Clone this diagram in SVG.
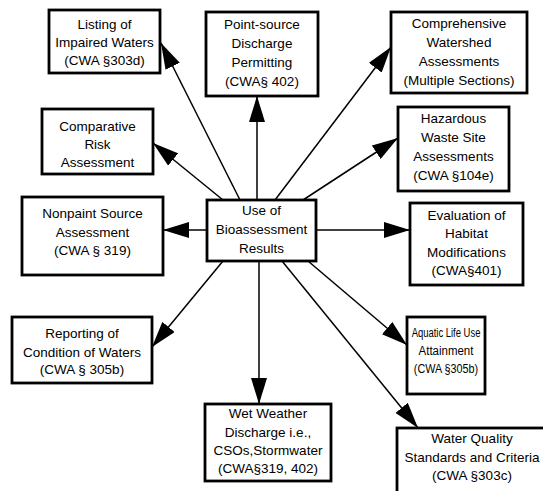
<svg xmlns="http://www.w3.org/2000/svg" width="543" height="491" viewBox="0 0 543 491">
<style>
.box{fill:#fff;stroke:#000;stroke-width:2.8}
.t{font-family:"Liberation Sans",Arial,sans-serif;font-size:13.5px;fill:#000;text-anchor:middle}
.c line{stroke:#000;stroke-width:1.5;marker-end:url(#ah)}
</style>
<defs>
<marker id="ah" markerUnits="userSpaceOnUse" viewBox="0 0 26 16" refX="26" refY="8" markerWidth="26" markerHeight="16" orient="auto">
<path d="M0,0 L26,8 L0,16 z" fill="#000"/>
</marker>
</defs>
<rect width="543" height="491" fill="#fff"/>
<g class="c" id="connectors">
<line x1="240" y1="200" x2="161" y2="43"/>
<line x1="223" y1="200" x2="153" y2="143"/>
<line x1="257" y1="200" x2="257" y2="96"/>
<line x1="275" y1="200" x2="391" y2="47"/>
<line x1="303" y1="200" x2="398" y2="138"/>
<line x1="207" y1="230" x2="163" y2="230"/>
<line x1="316" y1="230" x2="410" y2="230"/>
<line x1="223" y1="261" x2="152" y2="347"/>
<line x1="259" y1="261" x2="259" y2="404"/>
<line x1="308" y1="261" x2="407" y2="345"/>
<line x1="282" y1="261" x2="418" y2="428"/>
</g>
<g id="center">
<rect class="box" x="207" y="200" width="109" height="61"/>
<text class="t" x="261.5" y="215">Use of</text>
<text class="t" x="261.5" y="234">Bioassessment</text>
<text class="t" x="261.5" y="253">Results</text>
</g>
<g id="listing">
<rect class="box" x="49" y="10" width="111" height="63"/>
<text class="t" x="104.5" y="29">Listing of</text>
<text class="t" x="104.5" y="47">Impaired Waters</text>
<text class="t" x="104.5" y="65">(CWA §303d)</text>
</g>
<g id="comparative">
<rect class="box" x="42" y="109" width="111" height="65"/>
<text class="t" x="97.5" y="131">Comparative</text>
<text class="t" x="97.5" y="149">Risk</text>
<text class="t" x="97.5" y="167">Assessment</text>
</g>
<g id="pointsource">
<rect class="box" x="206" y="12" width="112" height="84"/>
<text class="t" x="262" y="29">Point-source</text>
<text class="t" x="262" y="48">Discharge</text>
<text class="t" x="262" y="67">Permitting</text>
<text class="t" x="262" y="86">(CWA§ 402)</text>
</g>
<g id="comprehensive">
<rect class="box" x="391" y="12" width="136" height="81"/>
<text class="t" x="459" y="28">Comprehensive</text>
<text class="t" x="459" y="47">Watershed</text>
<text class="t" x="459" y="66">Assessments</text>
<text class="t" x="459" y="85">(Multiple Sections)</text>
</g>
<g id="hazardous">
<rect class="box" x="398" y="107" width="111" height="84"/>
<text class="t" x="453.5" y="123">Hazardous</text>
<text class="t" x="453.5" y="142">Waste Site</text>
<text class="t" x="453.5" y="161">Assessments</text>
<text class="t" x="453.5" y="180">(CWA §104e)</text>
</g>
<g id="evaluation">
<rect class="box" x="410" y="203" width="113" height="82"/>
<text class="t" x="466.5" y="220">Evaluation of</text>
<text class="t" x="466.5" y="238">Habitat</text>
<text class="t" x="466.5" y="257">Modifications</text>
<text class="t" x="466.5" y="275">(CWA§401)</text>
</g>
<g id="nonpaint">
<rect class="box" x="22" y="197" width="141" height="78"/>
<text class="t" x="92.5" y="218">Nonpaint Source</text>
<text class="t" x="92.5" y="237">Assessment</text>
<text class="t" x="92.5" y="255">(CWA § 319)</text>
</g>
<g id="reporting">
<rect class="box" x="12" y="317" width="140" height="66"/>
<text class="t" x="82" y="338">Reporting of</text>
<text class="t" x="82" y="357">Condition of Waters</text>
<text class="t" x="82" y="374">(CWA § 305b)</text>
</g>
<g id="wetweather">
<rect class="box" x="205" y="404" width="126" height="77"/>
<text class="t" x="268" y="418">Wet Weather</text>
<text class="t" x="268" y="437">Discharge i.e.,</text>
<text class="t" x="268" y="455">CSOs,Stormwater</text>
<text class="t" x="268" y="473">(CWA§319, 402)</text>
</g>
<g id="aquatic">
<rect class="box" x="407" y="317" width="78" height="77"/>
<text class="t" transform="translate(446,337) scale(0.7,1)">Aquatic Life Use</text>
<text class="t" transform="translate(446,355) scale(0.85,1)">Attainment</text>
<text class="t" transform="translate(446,373) scale(0.8,1)">(CWA §305b)</text>
</g>
<g id="waterquality">
<rect class="box" x="397" y="428" width="152" height="70"/>
<text class="t" x="472" y="443">Water Quality</text>
<text class="t" x="472" y="462">Standards and Criteria</text>
<text class="t" x="472" y="480">(CWA §303c)</text>
</g>
</svg>
